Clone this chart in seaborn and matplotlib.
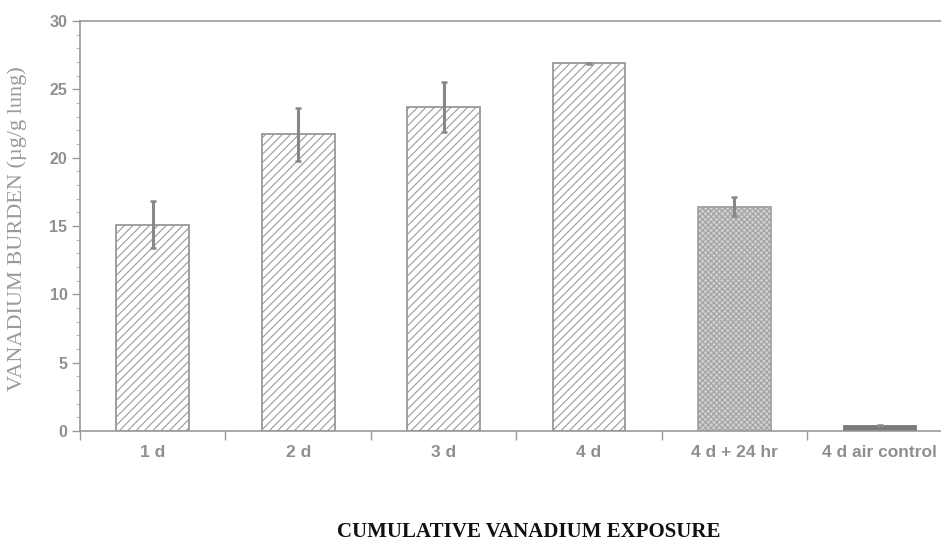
import numpy as np
import pandas as pd
import matplotlib
matplotlib.use("Agg")
import matplotlib.pyplot as plt
import seaborn as sns
from matplotlib.ticker import MultipleLocator

categories = ["1 d", "2 d", "3 d", "4 d", "4 d + 24 hr", "4 d air control"]
means = [15.1, 21.7, 23.7, 26.9, 16.4, 0.4]
errors = [1.7, 1.95, 1.8, 0.05, 0.7, 0.05]
y_ticks = [0, 5, 10, 15, 20, 25, 30]

sns.set_theme(style="white")
plt.rcParams["hatch.linewidth"] = 0.8

df = pd.DataFrame({"exposure": categories, "burden": means})

fig = plt.figure(figsize=(9.41, 5.45), dpi=100)
ax = fig.add_axes([0.085, 0.209, 0.915, 0.7525])

grey = "#999999"
sns.barplot(data=df, x="exposure", y="burden", order=categories, ax=ax,
            width=0.5, color="white", edgecolor=grey, linewidth=1.3,
            errorbar=None)

faces = ["white", "white", "white", "white", "#d0d0d0", "#7a7a7a"]
hatches = ["////", "////", "////", "////", "xxxxxx", ""]
edges = [grey, grey, grey, grey, "#a2a2a2", "#7a7a7a"]
for patch, fc, h, ec in zip(ax.patches, faces, hatches, edges):
    patch.set_facecolor(fc)
    patch.set_hatch(h)
    patch.set_edgecolor(ec)

ax.errorbar(np.arange(len(categories)), means, yerr=errors, fmt="none",
            ecolor="#888888", elinewidth=2.2, capsize=2.5, capthick=1.8,
            zorder=5)

ax.set_ylim(0, 30)
ax.set_xlim(-0.5, 5.42)
ax.set_yticks(y_ticks)
ax.yaxis.set_minor_locator(MultipleLocator(1))

ax.set_xticks(np.arange(len(categories)))
ax.set_xticklabels(categories, fontsize=12.5, fontweight="bold",
                   color="#8f8f8f", family="Liberation Sans")
ax.set_xticks(np.arange(-0.5, 5.0, 1.0), minor=True)

ax.tick_params(axis="x", which="major", length=0, pad=10)
ax.tick_params(axis="x", which="minor", direction="out", length=6.5,
               color=grey, width=1, bottom=True)
ax.tick_params(axis="y", which="major", direction="out", length=6,
               color=grey, width=1, left=True, labelsize=11.5,
               labelcolor="#8f8f8f", pad=3)
ax.tick_params(axis="y", which="minor", direction="out", length=3,
               color="#bbbbbb", width=0.8, left=True)
for lab in ax.get_yticklabels():
    lab.set_fontweight("bold")
    lab.set_family("Liberation Sans")

for side in ["left", "top", "bottom"]:
    ax.spines[side].set_color(grey)
    ax.spines[side].set_linewidth(1.2)
ax.spines["right"].set_visible(False)

ax.set_ylabel("VANADIUM BURDEN (µg/g lung)", family="Liberation Serif",
              fontsize=16, color="#9a9a9a")
ax.yaxis.set_label_coords(-0.062, 0.494)
ax.set_xlabel("")
fig.text(0.562, 0.006, "CUMULATIVE VANADIUM EXPOSURE", ha="center",
         va="bottom", family="Liberation Serif", fontsize=15,
         fontweight="bold", color="#111111")

fig.savefig("out.png", dpi=100)
